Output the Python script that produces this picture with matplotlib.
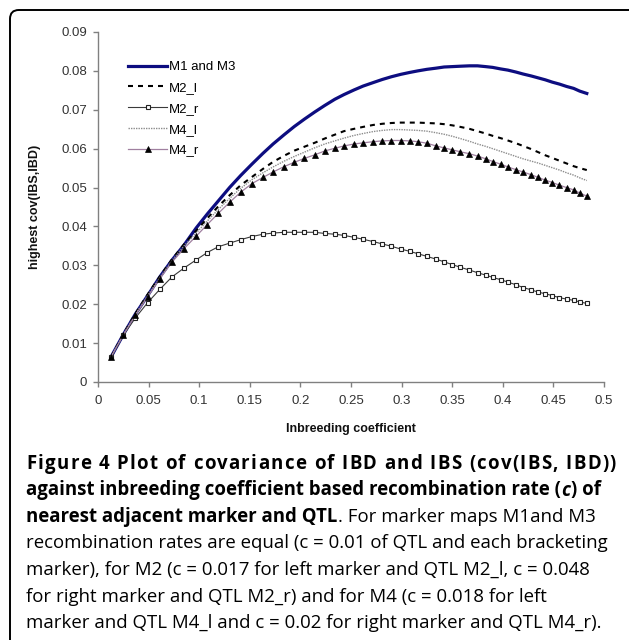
import matplotlib
matplotlib.use('Agg')
import matplotlib.pyplot as plt
from matplotlib.patches import FancyBboxPatch

# inbreeding coefficient at each computed point
inbreeding = [0.013, 0.025, 0.037, 0.049, 0.061, 0.073, 0.085, 0.097, 0.108, 0.119,
              0.130, 0.141, 0.152, 0.163, 0.173, 0.184, 0.194, 0.204, 0.214, 0.224,
              0.234, 0.243, 0.253, 0.262, 0.272, 0.281, 0.290, 0.299, 0.308, 0.316,
              0.325, 0.334, 0.342, 0.350, 0.358, 0.367, 0.375, 0.383, 0.390, 0.398,
              0.405, 0.413, 0.420, 0.428, 0.435, 0.442, 0.449, 0.456, 0.463, 0.470,
              0.476, 0.483]

m1_m3 = [0.0065, 0.0122, 0.0175, 0.0222, 0.0270, 0.0313, 0.0352, 0.0396, 0.0432, 0.0466,
         0.0500, 0.0531, 0.0560, 0.0588, 0.0612, 0.0636, 0.0657, 0.0676, 0.0694, 0.0711,
         0.0727, 0.0739, 0.0751, 0.0761, 0.0770, 0.0778, 0.0785, 0.0791, 0.0796, 0.0800,
         0.0804, 0.0807, 0.0810, 0.0811, 0.0812, 0.0813, 0.0813, 0.0811, 0.0809, 0.0805,
         0.0802, 0.0797, 0.0792, 0.0787, 0.0782, 0.0777, 0.0771, 0.0766, 0.0760, 0.0755,
         0.0748, 0.0742]

m2_l = [0.0065, 0.0123, 0.0176, 0.0225, 0.0271, 0.0315, 0.0354, 0.0389, 0.0421, 0.0452,
        0.0480, 0.0506, 0.0527, 0.0548, 0.0566, 0.0582, 0.0595, 0.0605, 0.0615, 0.0626,
        0.0636, 0.0645, 0.0651, 0.0656, 0.0661, 0.0664, 0.0666, 0.0667, 0.0667, 0.0667,
        0.0666, 0.0665, 0.0663, 0.0660, 0.0656, 0.0651, 0.0645, 0.0639, 0.0633, 0.0627,
        0.0621, 0.0614, 0.0607, 0.0599, 0.0591, 0.0583, 0.0576, 0.0569, 0.0562, 0.0555,
        0.0550, 0.0545]

m2_r = [0.0065, 0.0120, 0.0165, 0.0204, 0.0238, 0.0270, 0.0293, 0.0314, 0.0333, 0.0348,
        0.0357, 0.0366, 0.0374, 0.0380, 0.0383, 0.0385, 0.0385, 0.0385, 0.0385, 0.0382,
        0.0380, 0.0377, 0.0372, 0.0367, 0.0361, 0.0355, 0.0349, 0.0342, 0.0336, 0.0330,
        0.0323, 0.0316, 0.0309, 0.0302, 0.0295, 0.0288, 0.0281, 0.0275, 0.0269, 0.0263,
        0.0257, 0.0250, 0.0243, 0.0237, 0.0231, 0.0227, 0.0222, 0.0217, 0.0213, 0.0210,
        0.0206, 0.0202]

m4_l = [0.0065, 0.0122, 0.0174, 0.0222, 0.0268, 0.0312, 0.0350, 0.0383, 0.0414, 0.0444,
        0.0472, 0.0498, 0.0520, 0.0538, 0.0553, 0.0568, 0.0580, 0.0591, 0.0602, 0.0612,
        0.0620, 0.0627, 0.0634, 0.0639, 0.0644, 0.0647, 0.0649, 0.0649, 0.0648, 0.0647,
        0.0645, 0.0641, 0.0637, 0.0632, 0.0626, 0.0619, 0.0612, 0.0606, 0.0600, 0.0593,
        0.0587, 0.0580, 0.0574, 0.0568, 0.0563, 0.0557, 0.0551, 0.0545, 0.0538, 0.0532,
        0.0525, 0.0518]

m4_r = [0.0065, 0.0121, 0.0172, 0.0219, 0.0265, 0.0308, 0.0343, 0.0375, 0.0405, 0.0434,
        0.0462, 0.0488, 0.0510, 0.0526, 0.0540, 0.0554, 0.0565, 0.0575, 0.0584, 0.0594,
        0.0601, 0.0607, 0.0612, 0.0615, 0.0618, 0.0620, 0.0621, 0.0621, 0.0620, 0.0618,
        0.0614, 0.0607, 0.0602, 0.0597, 0.0592, 0.0587, 0.0581, 0.0574, 0.0567, 0.0560,
        0.0553, 0.0546, 0.0540, 0.0533, 0.0526, 0.0519, 0.0513, 0.0506, 0.0500, 0.0494,
        0.0486, 0.0478]

xticks = [0, 0.05, 0.1, 0.15, 0.2, 0.25, 0.3, 0.35, 0.4, 0.45, 0.5]
xtick_labels = ['0', '0.05', '0.1', '0.15', '0.2', '0.25', '0.3', '0.35', '0.4', '0.45', '0.5']
yticks = [0, 0.01, 0.02, 0.03, 0.04, 0.05, 0.06, 0.07, 0.08, 0.09]
ytick_labels = ['0', '0.01', '0.02', '0.03', '0.04', '0.05', '0.06', '0.07', '0.08', '0.09']

caption = [
    [("Figure 4 Plot of covariance of IBD and IBS (cov(IBS, IBD))", 'bold', 'normal')],
    [("against inbreeding coefficient based recombination rate (", 'bold', 'normal'),
     ("c", 'bold', 'italic'), (") of", 'bold', 'normal')],
    [("nearest adjacent marker and QTL", 'bold', 'normal'),
     (". For marker maps M1and M3", 'normal', 'normal')],
    [("recombination rates are equal (c = 0.01 of QTL and each bracketing", 'normal', 'normal')],
    [("marker), for M2 (c = 0.017 for left marker and QTL M2_l, c = 0.048", 'normal', 'normal')],
    [("for right marker and QTL M2_r) and for M4 (c = 0.018 for left", 'normal', 'normal')],
    [("marker and QTL M4_l and c = 0.02 for right marker and QTL M4_r).", 'normal', 'normal')],
]

W, H = 629, 640
fig = plt.figure(figsize=(W / 100, H / 100), dpi=100)
plt.rcParams['font.family'] = ['Liberation Sans', 'DejaVu Sans']

# rounded frame around the whole figure panel
frame = FancyBboxPatch((10 / W, -0.05), 1.2, 1 - 10 / H + 0.05,
                       boxstyle='round,pad=0,rounding_size=0.014',
                       transform=fig.transFigure, fill=False, lw=1.4,
                       edgecolor='black', clip_on=False)
fig.patches.append(frame)

ax = fig.add_axes([98 / W, 1 - 382 / H, 506 / W, 350 / H])

ax.plot(inbreeding, m1_m3, color='#0d0d80', lw=2.3, label='M1 and M3')
ax.plot(inbreeding, m2_l, color='black', lw=1.5, ls=(0, (2.4, 2.4)), label='M2_l')
ax.plot(inbreeding, m2_r, color='#3a3a3a', lw=0.8, marker='s', ms=3.2,
        mfc='white', mec='#222222', mew=0.8, label='M2_r')
ax.plot(inbreeding, m4_l, color='#8c8c8c', lw=1.0, ls=(0, (1, 0.8)), label='M4_l')
ax.plot(inbreeding, m4_r, color='#a080a0', lw=0.9, marker='^', ms=4,
        mfc='black', mec='black', mew=0.5, label='M4_r')

ax.set_xlim(0, 0.5)
ax.set_ylim(0, 0.09)
ax.set_xticks(xticks)
ax.set_xticklabels(xtick_labels)
ax.set_yticks(yticks)
ax.set_yticklabels(ytick_labels)

for s in ['top', 'right']:
    ax.spines[s].set_visible(False)
for s in ['left', 'bottom']:
    ax.spines[s].set_color('#808080')
    ax.spines[s].set_linewidth(1.0)
ax.tick_params(axis='both', direction='out', length=3.5, width=1.0, color='#808080',
               labelsize=9.5, labelcolor='#333333')
ax.tick_params(axis='y', pad=4.5)
ax.tick_params(axis='x', pad=6)

ax.set_ylabel('highest cov(IBS,IBD)', fontsize=9, fontweight='bold', color='#111111')
ax.yaxis.set_label_coords(-0.112, 0.5)
ax.set_xlabel('Inbreeding coefficient', fontsize=9, fontweight='bold', color='#111111')
ax.xaxis.set_label_coords(0.5, -0.117)

ax.legend(loc='upper left', bbox_to_anchor=(0.059, 0.917), frameon=False,
          fontsize=9.5, handlelength=3.0, handletextpad=0.1, labelspacing=0.65,
          borderaxespad=0, borderpad=0)

# caption, drawn piece by piece so bold / italic runs follow each other
renderer = fig.canvas.get_renderer()
cap_size = 13.4
cap_family = ['Open Sans', 'DejaVu Sans']
left_px, right_px = 26, 616
baselines = [469, 495.5, 522, 548.5, 575, 601.5, 628]


def cap_text(x, y, txt, weight, style):
    return fig.text(x, y, txt, fontsize=cap_size, fontweight=weight, fontstyle=style,
                    family=cap_family, va='baseline', ha='left', color='black')


def width_px(txt, weight, style):
    t = cap_text(0, 0, txt, weight, style)
    w = t.get_window_extent(renderer=renderer).width
    t.remove()
    return w


for i, (line, yb) in enumerate(zip(caption, baselines)):
    y = 1 - yb / H
    if i == 0:
        # first line is letter-spaced out to the full column width
        txt, weight, style = line[0]
        bar = width_px('|', weight, style)
        starts = [width_px(txt[:k] + '|', weight, style) - bar for k in range(len(txt))]
        full = width_px(txt, weight, style)
        extra = (right_px - left_px - full) / (len(txt) - 1)
        for k, ch in enumerate(txt):
            if ch != ' ':
                cap_text((left_px + starts[k] + k * extra) / W, y, ch, weight, style)
        continue
    xx = left_px / W
    for txt, weight, style in line:
        t = cap_text(xx, y, txt, weight, style)
        bb = t.get_window_extent(renderer=renderer)
        xx += bb.width / fig.bbox.width + 0.8 / W

fig.savefig('out.png', dpi=100)
